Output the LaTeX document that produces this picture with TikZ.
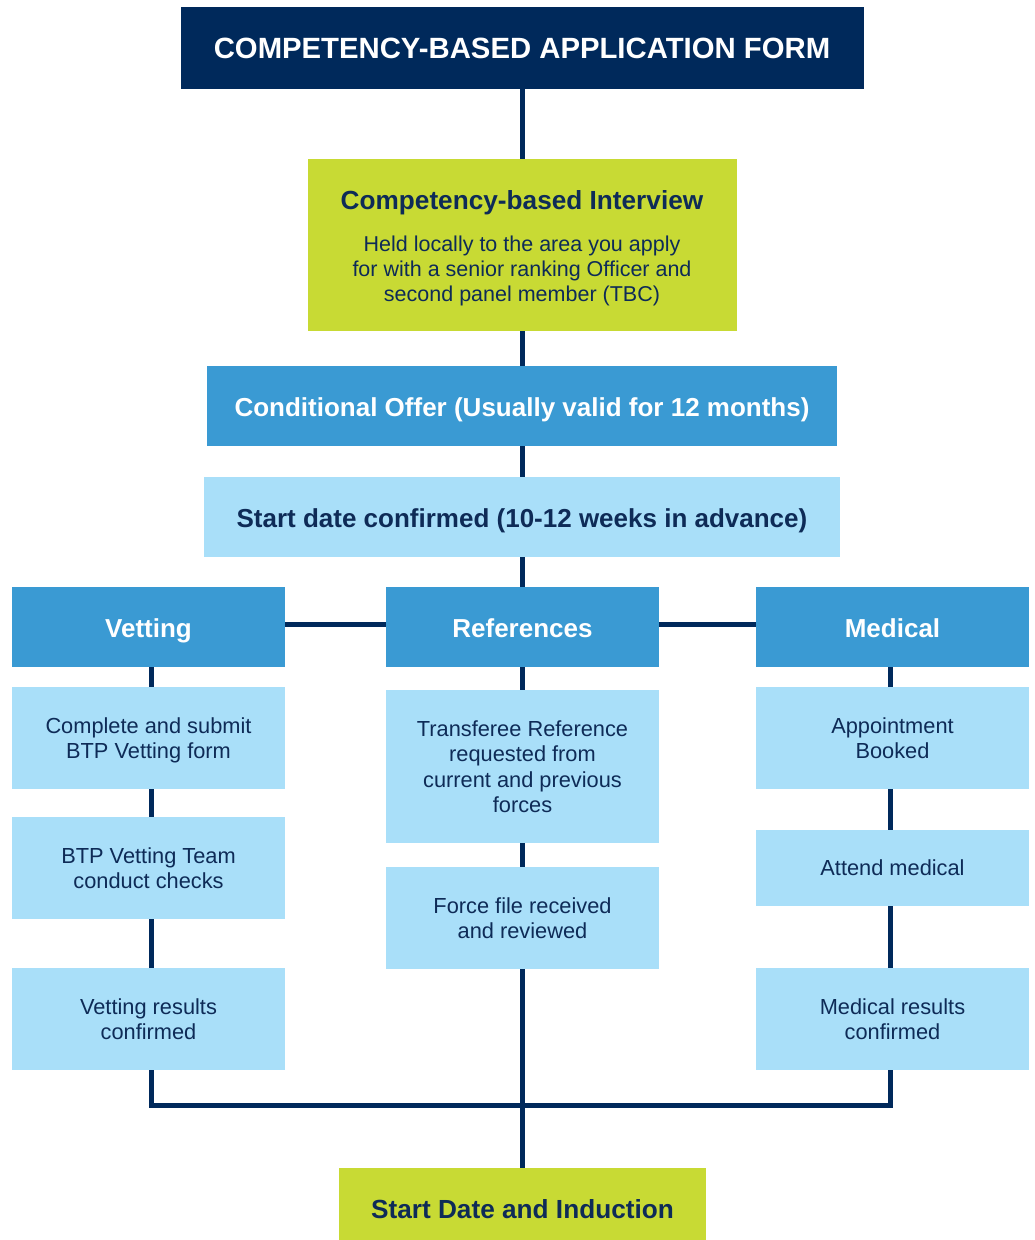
\documentclass[tikz,border=0pt]{standalone}
\usepackage{fontspec}
\setmainfont{Liberation Sans}
\definecolor{navy}{HTML}{00295B}
\definecolor{lime}{HTML}{C8DA34}
\definecolor{midblue}{HTML}{3A9AD3}
\definecolor{lightblue}{HTML}{A9DFF9}
\definecolor{navytext}{HTML}{0E2B57}
\begin{document}
\begin{tikzpicture}[x=1pt,y=-1pt,
  box/.style={draw=none,inner sep=0pt,align=center},
  titlebox/.style={box,fill=navy,text=white,font=\fontsize{29.3}{34}\selectfont\bfseries,text height=26pt,text depth=5pt},
  limebox/.style={box,fill=lime,text=navytext},
  headbox/.style={box,fill=midblue,text=white,minimum width=273,minimum height=80,font=\fontsize{26}{30}\selectfont\bfseries,text height=26pt,text depth=5pt},
  subbox/.style={box,fill=lightblue,text=navytext,minimum width=273,font=\fontsize{21.8}{25.3}\selectfont,text depth=0pt},
  txt/.style={inner sep=0pt,align=center,text=navytext},
  link/.style={draw=navy,line width=5pt}]
\useasboundingbox (0,0) rectangle (1034,1240);

% boxes
\node[titlebox,minimum width=683,minimum height=82] (title) at (522,48) {COMPETENCY-BASED APPLICATION FORM};
\node[limebox,minimum width=429,minimum height=172] (interview) at (522,245) {};
\node[txt,font=\fontsize{26.2}{30}\selectfont\bfseries,text height=26pt,text depth=5pt] (intitle) at (522,199) {Competency-based Interview};
\node[txt,font=\fontsize{21.5}{25}\selectfont,text depth=0pt] (inbody) at (522,269) {Held locally to the area you apply\\for with a senior ranking Officer and\\second panel member (TBC)};
\node[box,fill=midblue,text=white,minimum width=630,minimum height=80,font=\fontsize{26}{30}\selectfont\bfseries,text height=25pt,text depth=5pt] (offer) at (522,406) {Conditional Offer (Usually valid for 12 months)};
\node[box,fill=lightblue,text=navytext,minimum width=636,minimum height=80,font=\fontsize{26}{30}\selectfont\bfseries,text height=25pt,text depth=5pt] (start) at (522,517) {Start date confirmed (10-12 weeks in advance)};

\node[headbox] (vet) at (148.5,627) {Vetting};
\node[headbox] (ref) at (522.5,627) {References};
\node[headbox] (med) at (892.5,627) {Medical};

\node[subbox,minimum height=102] (v1) at (148.5,738) {Complete and submit\\BTP Vetting form};
\node[subbox,minimum height=102] (v2) at (148.5,868) {BTP Vetting Team\\conduct checks};
\node[subbox,minimum height=102] (v3) at (148.5,1019) {Vetting results\\confirmed};

\node[subbox,minimum height=153] (r1) at (522.5,766.5) {Transferee Reference\\requested from\\current and previous\\forces};
\node[subbox,minimum height=102] (r2) at (522.5,918) {Force file received\\and reviewed};

\node[subbox,minimum height=102] (m1) at (892.5,738) {Appointment\\Booked};
\node[subbox,minimum height=76] (m2) at (892.5,868) {Attend medical};
\node[subbox,minimum height=102] (m3) at (892.5,1019) {Medical results\\confirmed};

\node[limebox,minimum width=367,minimum height=72,font=\fontsize{26.2}{30}\selectfont\bfseries,text height=33pt,text depth=5pt] (final) at (522.5,1204) {Start Date and Induction};

% connectors
\coordinate (bus) at (522,1105);
\draw[link] (title.south) -- (interview.north);
\draw[link] (interview.south) -- (offer.north);
\draw[link] (offer.south) -- (start.north);
\draw[link] (start.south) -- (start.south |- ref.north);
\draw[link] ([yshift=3pt]vet.east) -- ([yshift=3pt]ref.west);
\draw[link] ([yshift=3pt]ref.east) -- ([yshift=3pt]med.west);
\draw[link] ([xshift=2.5pt]vet.south) -- ([xshift=2.5pt]v1.north);
\draw[link] ([xshift=2.5pt]v1.south) -- ([xshift=2.5pt]v2.north);
\draw[link] ([xshift=2.5pt]v2.south) -- ([xshift=2.5pt]v3.north);
\draw[link] (ref.south) -- (r1.north);
\draw[link] (r1.south) -- (r2.north);
\draw[link] ([xshift=-2.5pt]med.south) -- ([xshift=-2.5pt]m1.north);
\draw[link] ([xshift=-2.5pt]m1.south) -- ([xshift=-2.5pt]m2.north);
\draw[link] ([xshift=-2.5pt]m2.south) -- ([xshift=-2.5pt]m3.north);
\draw[link] ([xshift=2.5pt]v3.south) |- (bus) -| ([xshift=-2.5pt]m3.south);
\draw[link] (r2.south) -- (final.north);
\end{tikzpicture}
\end{document}
